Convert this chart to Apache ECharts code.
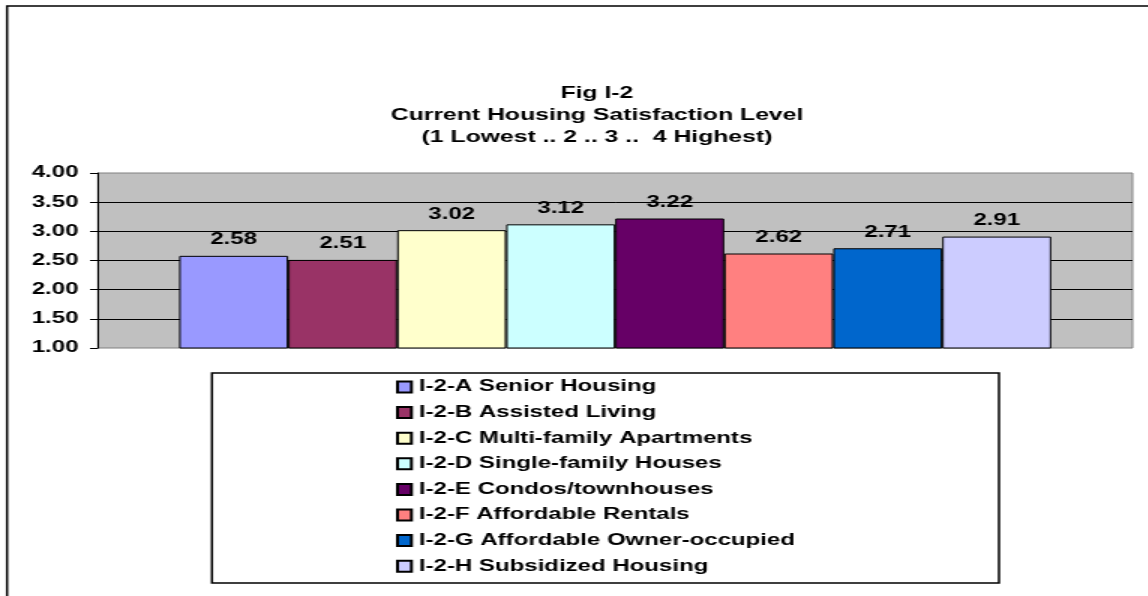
<!DOCTYPE html>
<html>
<head>
<meta charset="utf-8">
<script src="https://cdn.jsdelivr.net/npm/echarts@6/dist/echarts.min.js"></script>
<style>
  html, body { margin: 0; padding: 0; background: #fff; overflow: hidden; }
  /* the source picture is an Excel chart stretched sideways, so draw narrow and stretch it */
  #main { width: 765.33px; height: 596px; transform: scaleX(1.5); transform-origin: 0 0; }
</style>
</head>
<body>
<div id="main"></div>
<script>
var seriesNames = [
  'I-2-A Senior Housing',
  'I-2-B Assisted Living',
  'I-2-C Multi-family Apartments',
  'I-2-D Single-family Houses',
  'I-2-E Condos/townhouses',
  'I-2-F Affordable Rentals',
  'I-2-G Affordable Owner-occupied',
  'I-2-H Subsidized Housing'
];
var satisfaction = [2.58, 2.51, 3.02, 3.12, 3.22, 2.62, 2.71, 2.91];
var palette = ['#9999FF', '#993366', '#FFFFCC', '#CCFFFF', '#660066', '#FF8080', '#0066CC', '#CCCCFF'];
var categories = [''];

var font = 'Liberation Sans, Arial, sans-serif';

var series = seriesNames.map(function (name, i) {
  return {
    name: name,
    type: 'bar',
    barGap: 0,
    barCategoryGap: '15.7%',
    data: [satisfaction[i]],
    itemStyle: { color: palette[i], borderColor: '#000', borderWidth: 1 },
    label: {
      show: true,
      position: 'top',
      distance: 8,
      color: '#000',
      fontFamily: font,
      fontWeight: 'bold',
      fontSize: 16,
      formatter: function (p) { return p.value.toFixed(2); }
    }
  };
});

var chart = echarts.init(document.getElementById('main'));
chart.setOption({
  animation: false,
  backgroundColor: '#fff',
  title: {
    text: 'Fig I-2\nCurrent Housing Satisfaction Level\n(1 Lowest .. 2 .. 3 ..  4 Highest)',
    left: 393,
    top: 77,
    textAlign: 'center',
    textStyle: { fontFamily: font, fontWeight: 'bold', fontSize: 16.5, lineHeight: 22, color: '#000' }
  },
  graphic: [
    { type: 'rect', shape: { x: 4.7, y: 6, width: 800, height: 640 },
      style: { fill: null, stroke: '#000', lineWidth: 1.5 }, silent: true },
    { type: 'rect', shape: { x: 141.3, y: 373, width: 524.7, height: 210 },
      style: { fill: '#fff', stroke: '#000', lineWidth: 1.5 }, silent: true, z: 0 }
  ],
  legend: {
    orient: 'vertical',
    left: 264,
    top: 377,
    padding: 0,
    itemWidth: 9.3,
    itemHeight: 11,
    itemGap: 5.6,
    icon: 'rect',
    z: 5,
    textStyle: { fontFamily: font, fontWeight: 'bold', fontSize: 16, lineHeight: 20, color: '#000' },
    data: seriesNames
  },
  grid: {
    left: 65.3, right: 10, top: 173, bottom: 248,
    show: true, backgroundColor: '#C0C0C0', borderColor: '#808080', borderWidth: 1
  },
  xAxis: {
    type: 'category',
    data: categories,
    axisLine: { show: false },
    axisTick: { show: false },
    axisLabel: { show: false }
  },
  yAxis: {
    type: 'value',
    min: 1,
    max: 4,
    interval: 0.5,
    axisLine: { show: true, lineStyle: { color: '#000', width: 1 } },
    axisTick: { show: true, length: 5.3, lineStyle: { color: '#000' } },
    axisLabel: {
      margin: 13,
      color: '#000',
      fontFamily: font,
      fontWeight: 'bold',
      fontSize: 16,
      formatter: function (v) { return v.toFixed(2); }
    },
    splitLine: { show: true, showMinLine: false, showMaxLine: false, lineStyle: { color: '#000', width: 1 } }
  },
  series: series
});
</script>
</body>
</html>
